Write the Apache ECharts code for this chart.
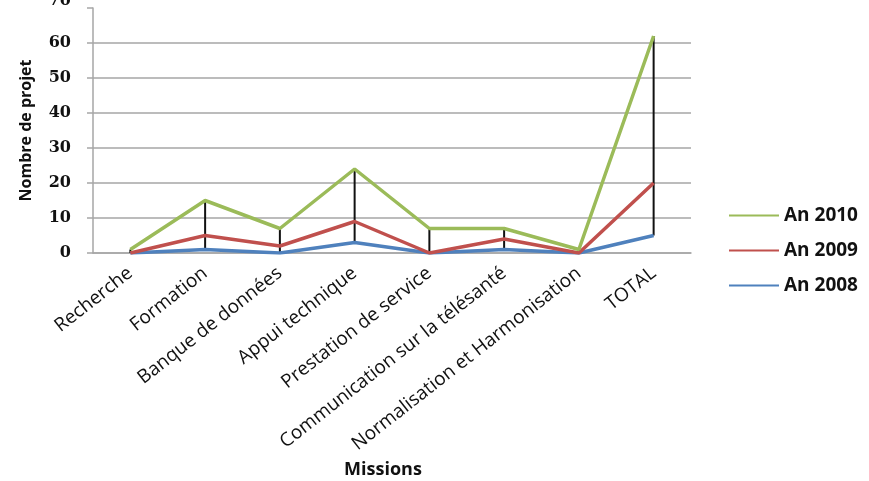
<!DOCTYPE html>
<html>
<head>
<meta charset="utf-8">
<script src="https://cdn.jsdelivr.net/npm/echarts@6/dist/echarts.min.js"></script>
<style>
  html, body { margin: 0; padding: 0; background: #fff; }
  #main { width: 869px; height: 481px; }
</style>
</head>
<body>
<div id="main"></div>
<script>
// Données
var missions = ['Recherche', 'Formation', 'Banque de données', 'Appui technique',
  'Prestation de service', 'Communication sur la télésanté',
  'Normalisation et Harmonisation', 'TOTAL'];
var an2010 = [1, 15, 7, 24, 7, 7, 1, 62];
var an2009 = [0, 5, 2, 9, 0, 4, 0, 20];
var an2008 = [0, 1, 0, 3, 0, 1, 0, 5];
var yTicks = [0, 10, 20, 30, 40, 50, 60, 70];

var chart = echarts.init(document.getElementById('main'));

// lignes haut-bas : du minimum au maximum des trois années
var hiLo = missions.map(function (m, i) {
  var vals = [an2010[i], an2009[i], an2008[i]];
  return [i, Math.min.apply(null, vals), Math.max.apply(null, vals)];
});

var gridColors = yTicks.map(function (t, i) {
  return i === yTicks.length - 1 ? 'rgba(0,0,0,0)' : '#a6a6a6';
});

var option = {
  backgroundColor: '#fff',
  animation: false,
  grid: { left: 93, right: 178, top: 8, bottom: 228, outerBoundsMode: 'none', containLabel: false },
  legend: {
    orient: 'vertical',
    left: 723,
    top: 201,
    itemWidth: 50,
    itemHeight: 14,
    itemGap: 16,
    itemStyle: { opacity: 0 },
    data: ['An 2010', 'An 2009', 'An 2008'],
    textStyle: { fontFamily: 'Open Sans', fontWeight: 'bold', fontSize: 19, color: '#111' }
  },
  xAxis: {
    type: 'category',
    data: missions,
    boundaryGap: true,
    name: 'Missions',
    nameLocation: 'middle',
    nameGap: 207,
    nameTextStyle: {
      fontFamily: 'Open Sans', fontWeight: 'bold', fontSize: 18, color: '#111',
      padding: [0, 18, 0, 0]
    },
    axisLine: { lineStyle: { color: '#a6a6a6', width: 1.5 } },
    axisTick: { show: false },
    axisLabel: {
      interval: 0,
      rotate: 38,
      margin: 18,
      fontFamily: 'Open Sans',
      fontSize: 19,
      color: '#111'
    }
  },
  yAxis: {
    type: 'value',
    min: 0,
    max: 70,
    interval: 10,
    name: 'Nombre de projet',
    nameLocation: 'middle',
    nameGap: 59,
    nameTextStyle: { fontFamily: 'Open Sans', fontWeight: 'bold', fontSize: 16, color: '#111' },
    axisLine: { show: true, lineStyle: { color: '#a6a6a6', width: 1.5 } },
    axisTick: { show: true, length: 6, lineStyle: { color: '#a6a6a6', width: 1.5 } },
    axisLabel: {
      margin: 22,
      fontFamily: 'DejaVu Serif',
      fontWeight: 'bold',
      fontSize: 16,
      color: '#111',
      // le « 70 » du haut est coupé par le bord de l'image
      formatter: function (v) {
        return v === yTicks[yTicks.length - 1] ? '{cut|' + v + '}' : String(v);
      },
      rich: {
        cut: {
          fontFamily: 'DejaVu Serif', fontWeight: 'bold', fontSize: 16, color: '#111',
          padding: [0, 0, 14, 0]
        }
      }
    },
    splitLine: { lineStyle: { color: gridColors, width: 1.5 } }
  },
  series: [
    {
      type: 'custom',
      name: 'hilo',
      data: hiLo,
      z: 1,
      renderItem: function (params, api) {
        var p1 = api.coord([api.value(0), api.value(1)]);
        var p2 = api.coord([api.value(0), api.value(2)]);
        return {
          type: 'line',
          shape: { x1: p1[0], y1: p1[1], x2: p2[0], y2: p2[1] },
          style: { stroke: '#111', lineWidth: 2 }
        };
      }
    },
    {
      type: 'line', name: 'An 2008', data: an2008, symbol: 'none', z: 2,
      itemStyle: { color: '#4f81bd' }, lineStyle: { color: '#4f81bd', width: 3.5 }
    },
    {
      type: 'line', name: 'An 2009', data: an2009, symbol: 'none', z: 3,
      itemStyle: { color: '#c0504d' }, lineStyle: { color: '#c0504d', width: 3.5 }
    },
    {
      type: 'line', name: 'An 2010', data: an2010, symbol: 'none', z: 4,
      itemStyle: { color: '#9bbb59' }, lineStyle: { color: '#9bbb59', width: 3.5 }
    }
  ]
};

chart.setOption(option);
</script>
</body>
</html>
